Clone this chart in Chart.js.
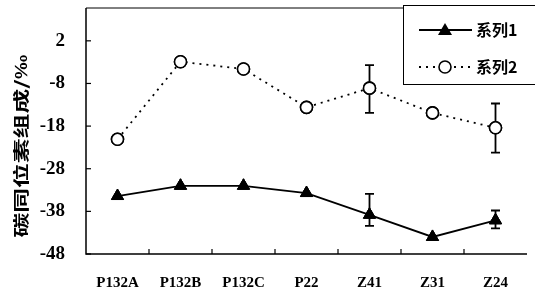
<!DOCTYPE html>
<html>
<head>
<meta charset="utf-8">
<script src="https://cdn.jsdelivr.net/npm/chart.js@4"></script>
<style>
  html, body { margin: 0; padding: 0; background: #fff; overflow: hidden; }
  canvas { display: block; }
</style>
</head>
<body>
<canvas id="chart" width="535" height="294"></canvas>
<script>
// Data
const categories = ['P132A', 'P132B', 'P132C', 'P22', 'Z41', 'Z31', 'Z24'];
const series1 = [-34.4, -32.0, -32.0, -33.7, -38.8, -44.0, -40.1];
const series2 = [-21.1, -2.9, -4.6, -13.6, -9.1, -14.9, -18.4];
// error bars (upper, lower), null where none
const err1Upper = [null, null, null, null, -33.9, null, -37.8];
const err1Lower = [null, null, null, null, -41.4, null, -42.0];
const err2Upper = [null, null, null, null, -3.7, null, -12.7];
const err2Lower = [null, null, null, null, -14.9, null, -24.2];
const yTicks = [-48, -38, -28, -18, -8, 2];
const yTitle = '碳同位素组成/‰';

const serif = '"Liberation Serif", "DejaVu Serif", serif';
const cjk = '"Noto Sans CJK SC", sans-serif';

// inward tick marks, frame, error bars, axis title and legend
const decorPlugin = {
    id: 'decor',
    afterDatasetsDraw(chart) {
        const ctx = chart.ctx;
        const a = chart.chartArea;
        const xs = chart.scales.x;
        const ys = chart.scales.y;
        ctx.save();
        ctx.strokeStyle = '#000';
        ctx.lineWidth = 1.5;
        // axes
        ctx.beginPath();
        ctx.moveTo(a.left, a.top);
        ctx.lineTo(a.left, a.bottom);
        ctx.lineTo(a.right, a.bottom);
        ctx.stroke();
        ctx.lineWidth = 1;
        ctx.beginPath();
        ctx.moveTo(a.left, a.top);
        ctx.lineTo(a.right, a.top);
        ctx.stroke();
        // y ticks inward
        ctx.lineWidth = 1.2;
        yTicks.forEach(v => {
            const y = ys.getPixelForValue(v);
            ctx.beginPath();
            ctx.moveTo(a.left, y);
            ctx.lineTo(a.left + 5, y);
            ctx.stroke();
        });
        // x ticks between categories
        for (let i = 0; i < categories.length - 1; i++) {
            const x = (xs.getPixelForValue(i) + xs.getPixelForValue(i + 1)) / 2;
            ctx.beginPath();
            ctx.moveTo(x, a.bottom);
            ctx.lineTo(x, a.bottom - 5);
            ctx.stroke();
        }
        // error bars
        ctx.lineWidth = 1.8;
        const drawErr = (up, lo) => {
            for (let i = 0; i < categories.length; i++) {
                if (up[i] == null) continue;
                const x = xs.getPixelForValue(i);
                const y1 = ys.getPixelForValue(up[i]);
                const y2 = ys.getPixelForValue(lo[i]);
                ctx.beginPath();
                ctx.moveTo(x, y1); ctx.lineTo(x, y2);
                ctx.moveTo(x - 4.5, y1); ctx.lineTo(x + 4.5, y1);
                ctx.moveTo(x - 4.5, y2); ctx.lineTo(x + 4.5, y2);
                ctx.stroke();
            }
        };
        drawErr(err1Upper, err1Lower);
        drawErr(err2Upper, err2Lower);
        ctx.restore();
    },
    afterDraw(chart) {
        // redraw markers on top of error bars
        chart.data.datasets.forEach((ds, i) => {
            chart.getDatasetMeta(i).data.forEach(p => p.draw(chart.ctx, chart.chartArea));
        });
        const ctx = chart.ctx;
        // y axis title, stretched along the text like the original
        ctx.save();
        ctx.translate(21, 146);
        ctx.rotate(-Math.PI / 2);
        ctx.scale(1.55, 1);
        ctx.font = 'bold 16px ' + cjk;
        ctx.fillStyle = '#000';
        ctx.textAlign = 'center';
        ctx.textBaseline = 'middle';
        ctx.fillText(yTitle, 0, 0);
        ctx.restore();
        // legend box
        ctx.save();
        const bx = 403, by = 5, bw = 140, bh = 79;
        ctx.fillStyle = '#fff';
        ctx.fillRect(bx, by, bw, bh);
        ctx.strokeStyle = '#000';
        ctx.lineWidth = 1;
        ctx.strokeRect(bx + 0.5, by + 0.5, bw, bh);
        // item 1
        let y = 30;
        ctx.lineWidth = 1.8;
        ctx.beginPath();
        ctx.moveTo(419, y); ctx.lineTo(472, y);
        ctx.stroke();
        ctx.fillStyle = '#000';
        ctx.beginPath();
        ctx.moveTo(445, y - 7); ctx.lineTo(452, y + 5); ctx.lineTo(438, y + 5);
        ctx.closePath();
        ctx.fill();
        ctx.font = 'bold 16px ' + cjk;
        ctx.textBaseline = 'middle';
        ctx.fillText(chart.data.datasets[0].label, 476, y);
        // item 2
        y = 67;
        ctx.setLineDash([2, 5]);
        ctx.beginPath();
        ctx.moveTo(419, y); ctx.lineTo(472, y);
        ctx.stroke();
        ctx.setLineDash([]);
        ctx.fillStyle = '#fff';
        ctx.beginPath();
        ctx.arc(445, y, 6, 0, Math.PI * 2);
        ctx.fill();
        ctx.lineWidth = 1.6;
        ctx.stroke();
        ctx.fillStyle = '#000';
        ctx.fillText(chart.data.datasets[1].label, 476, y);
        ctx.restore();
    }
};

new Chart(document.getElementById('chart'), {
    type: 'line',
    data: {
        labels: categories,
        datasets: [
            {
                label: '系列1',
                data: series1,
                borderColor: '#000',
                borderWidth: 1.8,
                backgroundColor: '#000',
                pointStyle: 'triangle',
                pointRadius: 7,
                pointBackgroundColor: '#000',
                pointBorderColor: '#000',
                pointBorderWidth: 1,
                tension: 0
            },
            {
                label: '系列2',
                data: series2,
                borderColor: '#000',
                borderWidth: 1.8,
                borderDash: [2, 5],
                pointStyle: 'circle',
                pointRadius: 6,
                pointBackgroundColor: '#fff',
                pointBorderColor: '#000',
                pointBorderWidth: 1.6,
                tension: 0
            }
        ]
    },
    options: {
        responsive: false,
        animation: false,
        layout: { padding: { left: 0, right: 0, top: 6, bottom: 0 } },
        plugins: {
            legend: { display: false },
            tooltip: { enabled: false }
        },
        scales: {
            x: {
                offset: true,
                afterFit: (s) => { s.height = 40; s.paddingLeft = 0; s.paddingRight = 0; },
                grid: { display: false, drawTicks: false },
                border: { display: false },
                ticks: {
                    color: '#000',
                    padding: 20,
                    maxRotation: 0,
                    font: { family: serif, size: 15, weight: 'bold' }
                }
            },
            y: {
                min: -48,
                max: 9.7,
                afterBuildTicks: (s) => { s.ticks = yTicks.map(v => ({ value: v })); },
                afterFit: (s) => { s.width = 86; s.paddingTop = 0; s.paddingBottom = 0; },
                grid: { display: false, drawTicks: false },
                border: { display: false },
                ticks: {
                    color: '#000',
                    padding: 21,
                    font: { family: serif, size: 19, weight: 'bold' }
                }
            }
        }
    },
    plugins: [decorPlugin]
});
</script>
</body>
</html>
